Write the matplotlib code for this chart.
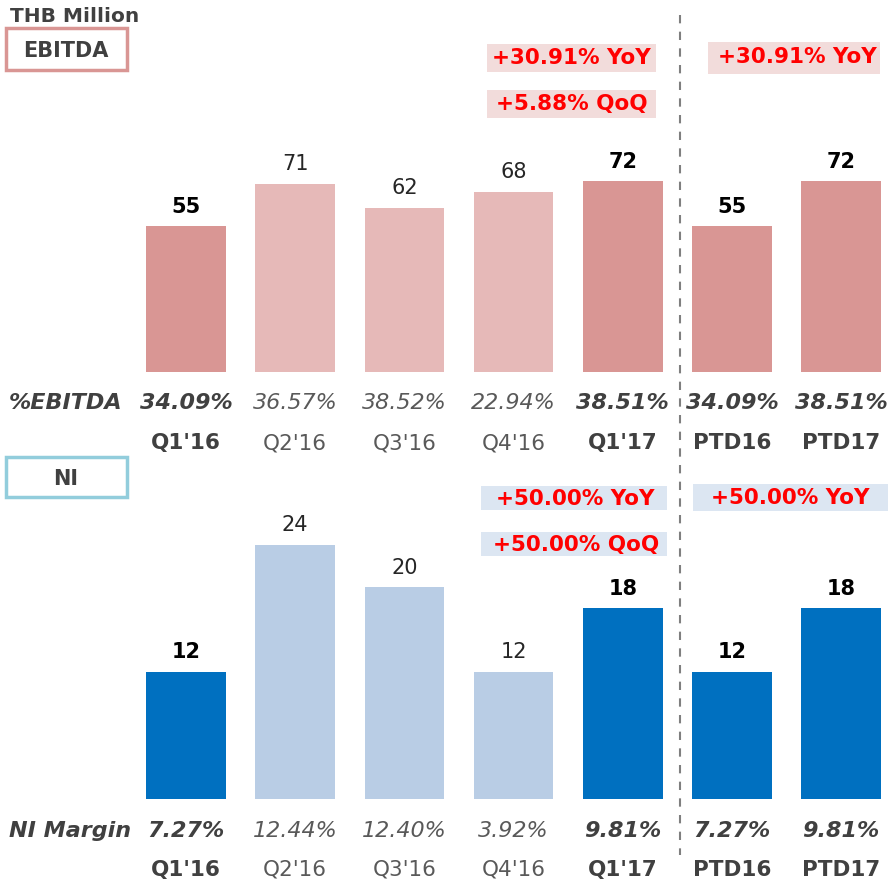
import matplotlib
matplotlib.use("Agg")
import matplotlib.pyplot as plt
import matplotlib.transforms as mtransforms
from matplotlib.patches import Rectangle
from matplotlib.lines import Line2D

plt.rcParams['font.family'] = ['DejaVu Sans']

# ---------------- data ----------------
categories = ["Q1'16", "Q2'16", "Q3'16", "Q4'16", "Q1'17", "PTD16", "PTD17"]
highlight = [True, False, False, False, True, True, True]
ebitda = [55, 71, 62, 68, 72, 55, 72]
ebitda_pct = ["34.09%", "36.57%", "38.52%", "22.94%", "38.51%", "34.09%", "38.51%"]
ni = [12, 24, 20, 12, 18, 12, 18]
ni_margin = ["7.27%", "12.44%", "12.40%", "3.92%", "9.81%", "7.27%", "9.81%"]
ebitda_yoy = "+30.91% YoY"
ebitda_qoq = "+5.88% QoQ"
ni_yoy = "+50.00% YoY"
ni_qoq = "+50.00% QoQ"

# ---------------- styles ----------------
W, H = 895, 885
def fx(x): return x / W
def fy(y): return 1 - y / H

eb_dark, eb_light = '#d99694', '#e6b9b8'
ni_dark, ni_light = '#0070c0', '#b9cde5'
txt_dark = '#404040'
txt_gray = '#595959'

fig = plt.figure(figsize=(W / 100, H / 100), dpi=100)
xlim = (-186 / 109.2, (W - 186) / 109.2)
x = list(range(len(categories)))

ax1 = fig.add_axes([0, fy(372), 1, 372 / H])
ax1.set_ylim(0, 372 / 2.653)
ax2 = fig.add_axes([0, fy(799), 1, (799 - 460) / H])
ax2.set_ylim(0, 339 / 10.6)
for ax in (ax1, ax2):
    ax.set_xlim(*xlim)
    ax.axis('off')
    ax.patch.set_alpha(0)

ax1.bar(x, ebitda, width=0.73, color=[eb_dark if h else eb_light for h in highlight])
ax2.bar(x, ni, width=0.73, color=[ni_dark if h else ni_light for h in highlight])

for ax, vals, off in ((ax1, ebitda, 14), (ax2, ni, 14)):
    for i, v in enumerate(vals):
        ax.annotate(str(v), (i, v), xytext=(0, off), textcoords='offset points',
                    ha='center', va='center', fontsize=15,
                    fontweight='bold' if highlight[i] else 'normal',
                    color='black' if highlight[i] else '#262626')

tr = mtransforms.blended_transform_factory(ax1.transData, fig.transFigure)

def rows(label, y_pct, pct, y_cat, lsize):
    fig.text(fx(9), fy(y_pct), label, ha='left', va='center', fontsize=lsize,
             fontweight='bold', fontstyle='italic', color=txt_dark)
    for i in x:
        h = highlight[i]
        fig.text(i, fy(y_pct), pct[i], transform=tr, ha='center', va='center', fontsize=16,
                 fontstyle='italic', fontweight='bold' if h else 'normal',
                 color=txt_dark if h else txt_gray)
        fig.text(i, fy(y_cat), categories[i], transform=tr, ha='center', va='center',
                 fontsize=15.5, fontweight='bold' if h else 'normal',
                 color=txt_dark if h else txt_gray)

rows('%EBITDA', 403, ebitda_pct, 443, 16)
rows('NI Margin', 831, ni_margin, 870, 16)

# Header
fig.text(fx(10), fy(16), 'THB Million', ha='left', va='center', fontsize=14.5,
         fontweight='bold', color=txt_dark)
fig.add_artist(Rectangle((fx(6), fy(70)), fx(121), 42 / H, transform=fig.transFigure,
                         fill=False, edgecolor=eb_dark, lw=2.5))
fig.text(fx(66), fy(51), 'EBITDA', ha='center', va='center', fontsize=15,
         fontweight='bold', color=txt_dark)
fig.add_artist(Rectangle((fx(6), fy(497)), fx(121), 40 / H, transform=fig.transFigure,
                         fill=False, edgecolor='#92cddc', lw=2.5))
fig.text(fx(66), fy(479), 'NI', ha='center', va='center', fontsize=15,
         fontweight='bold', color=txt_dark)

# Growth boxes
def gbox(x0, x1, y0, y1, xc, yc, s, bg):
    fig.add_artist(Rectangle((fx(x0), fy(y1)), (x1 - x0) / W, (y1 - y0) / H,
                             transform=fig.transFigure, fc=bg, ec='none'))
    fig.text(fx(xc), fy(yc), s, ha='center', va='center', fontsize=15.5,
             fontweight='bold', color='#ff0000')

gbox(487, 656, 44, 72, 571, 58, ebitda_yoy, '#f2dcdb')
gbox(487, 656, 90, 118, 572, 104, ebitda_qoq, '#f2dcdb')
gbox(708, 880, 42, 74, 797, 57, ebitda_yoy, '#f2dcdb')
gbox(481, 667, 486, 510, 575, 499, ni_yoy, '#dce6f2')
gbox(481, 667, 532, 556, 576, 545, ni_qoq, '#dce6f2')
gbox(693, 888, 484, 511, 790, 498, ni_yoy, '#dce6f2')

# Divider
fig.add_artist(Line2D([fx(680), fx(680)], [fy(15), fy(855)], transform=fig.transFigure,
                      color='#7f7f7f', lw=1.5, ls=(0, (4, 4))))

fig.savefig('out.png', dpi=100)
